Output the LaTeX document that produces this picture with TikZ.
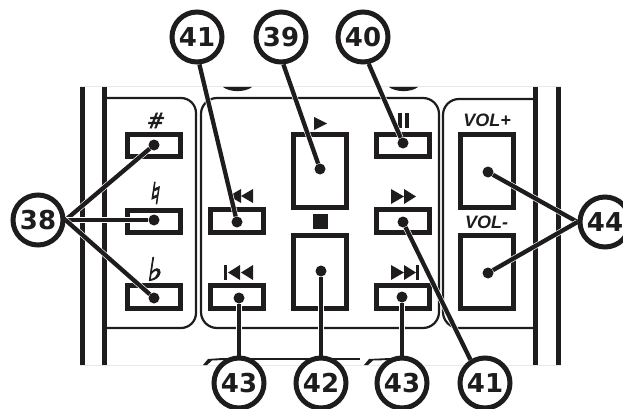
\documentclass[tikz,border=0pt]{standalone}
\usepackage{fontspec}
\setmainfont{Liberation Sans}
\newfontfamily\calloutfont{DejaVu Sans Bold}
\newfontfamily\accidentalfont[FakeSlant=0.15, FakeBold=2.5]{DejaVu Sans}
\pgfdeclarelayer{top}
\pgfsetlayers{main,top}
\definecolor{inkblack}{RGB}{30,28,28}
\definecolor{faintgrey}{RGB}{232,232,232}
\tikzset{
    bar/.style={draw=inkblack, line width=5},
    panel/.style={draw=inkblack, line width=2.2},
    faint/.style={draw=faintgrey, line width=0.8},
    button/.style={draw=inkblack, line width=5, inner sep=0pt, minimum width=53, minimum height=22.5},
    tallbutton/.style={button, minimum height=73},
    glyph/.style={fill=inkblack},
    keylabel/.style={text=inkblack, inner sep=0pt},
    pin/.style={circle, fill=inkblack, inner sep=0pt, minimum size=11},
    callout/.style={circle, draw=inkblack, fill=white, line width=5, inner sep=0pt, minimum size=50, font=\calloutfont\fontsize{26}{26}\selectfont, text=inkblack},
    leader/.style={draw=inkblack, line width=4.3, preaction={draw=white, line width=5.6}}
}
\begin{document}
\begin{tikzpicture}[x=1pt, y=-1pt]
    \clip (0,0) rectangle (623,409);
    % remote body
    \draw[faint] (80,86.5) -- (561,86.5);
    \draw[faint] (80,365) -- (561,365);
    \draw[bar] (82.5,87) -- (82.5,365);
    \draw[bar] (104.5,87) -- (104.5,365);
    \draw[bar] (535.5,87) -- (535.5,365);
    \draw[bar] (558.5,87) -- (558.5,365);
    \fill[inkblack] (223,87) .. controls (230,92.5) and (245,92.5) .. (252,87) -- cycle;
    \fill[inkblack] (389,87) .. controls (396,92.5) and (411,92.5) .. (418,87) -- cycle;
    \fill[inkblack] (203,365) -- (208,359) -- (223,358) -- (223,360) -- (212,360.5) -- (207,365) -- cycle;
    \draw[inkblack, line width=2] (223,359) -- (360,359);
    \fill[inkblack] (364,365) -- (369,359) -- (390,358) -- (390,360) -- (373,360.5) -- (368,365) -- cycle;
    % panels
    \draw[panel] (107,98) -- (181,98) arc[start angle=-90, end angle=0, radius=15] -- (196,313) arc[start angle=0, end angle=90, radius=15] -- (107,328);
    \draw[panel, rounded corners=16] (201,98) rectangle (439,328);
    \draw[panel] (533,99) -- (459,99) arc[start angle=-90, end angle=-180, radius=16] -- (443,312) arc[start angle=180, end angle=90, radius=16] -- (533,328);
    % buttons
    \node[button] (bsharp) at (154,145.5) {};
    \node[button] (bnatural) at (154,221.5) {};
    \node[button] (bflat) at (154,297) {};
    \node[button] (brew) at (237,221) {};
    \node[button] (bprev) at (237,297) {};
    \node[tallbutton] (bplay) at (320,171) {};
    \node[tallbutton] (bstop) at (320,272) {};
    \node[button] (bpause) at (403,145.5) {};
    \node[button] (bfwd) at (403,221) {};
    \node[button] (bnext) at (403,297) {};
    \node[tallbutton] (bvolup) at (487,171) {};
    \node[tallbutton] (bvoldown) at (487,272) {};
    % key labels
    \node[keylabel, font=\accidentalfont\fontsize{21}{21}\selectfont] (lsharp) at (155,120.5) {\#};
    \node[keylabel, font=\accidentalfont\fontsize{30}{30}\selectfont] (lnatural) at (154,193) {♮};
    \node[keylabel, font=\accidentalfont\fontsize{32}{32}\selectfont] (lflat) at (154,269) {♭};
    \node[keylabel, font=\bfseries\itshape\fontsize{18}{18}\selectfont] (lvolup) at (487,120) {VOL+};
    \node[keylabel, font=\bfseries\itshape\fontsize{18}{18}\selectfont] (lvoldown) at (486.5,222) {VOL-};
    \fill[glyph] (314,117) -- (327,123.5) -- (314,130) -- cycle;
    \fill[glyph] (398,113) rectangle (401.5,128);
    \fill[glyph] (405,113) rectangle (408.5,128);
    \fill[glyph] (241,189) -- (229,196) -- (241,203) -- cycle;
    \fill[glyph] (253,189) -- (241,196) -- (253,203) -- cycle;
    \fill[glyph] (391,189) -- (404,196.5) -- (391,204) -- cycle;
    \fill[glyph] (404,189) -- (416,196.5) -- (404,204) -- cycle;
    \fill[glyph] (313,214) rectangle (328,229);
    \fill[glyph] (224,265) rectangle (227,280);
    \fill[glyph] (240,265) -- (228,272.5) -- (240,280) -- cycle;
    \fill[glyph] (253,265) -- (241,272.5) -- (253,280) -- cycle;
    \fill[glyph] (391,265) -- (404,272.5) -- (391,280) -- cycle;
    \fill[glyph] (404,265) -- (416,272.5) -- (404,280) -- cycle;
    \fill[glyph] (416,265) rectangle (419,280);
    % callouts and their pins
    \begin{pgfonlayer}{top}
        \node[callout] (c38) at (38,220) {38};
        \node[callout] (c41top) at (197,37) {41};
        \node[callout] (c39) at (281,37) {39};
        \node[callout] (c40) at (363,37) {40};
        \node[callout] (c44) at (605,222) {44};
        \node[callout] (c43left) at (239,383) {43};
        \node[callout] (c42) at (321,383) {42};
        \node[callout] (c43right) at (402,383) {43};
        \node[callout] (c41bottom) at (485,383) {41};
        \node[pin] (p38a) at (154,145) {};
        \node[pin] (p38b) at (154,220) {};
        \node[pin] (p38c) at (154,298) {};
        \node[pin] (p41a) at (237,222) {};
        \node[pin] (p39) at (320,169) {};
        \node[pin] (p40) at (403,143) {};
        \node[pin] (p41b) at (403,222) {};
        \node[pin] (p43a) at (239,298) {};
        \node[pin] (p42) at (321,271) {};
        \node[pin] (p43b) at (402,297) {};
        \node[pin] (p44a) at (488,172) {};
        \node[pin] (p44b) at (488,273) {};
    \end{pgfonlayer}
    \draw[leader] (c38.east) -- (p38a);
    \draw[leader] (c38.east) -- (p38b);
    \draw[leader] (c38.east) -- (p38c);
    \draw[leader] (c41top.-85) -- (p41a);
    \draw[leader] (c39.-85) -- (p39);
    \draw[leader] (c40.-78) -- (p40);
    \draw[leader] (c41bottom.122) -- (p41b);
    \draw[leader] (c43left.north) -- (p43a);
    \draw[leader] (c42.north) -- (p42);
    \draw[leader] (c43right.north) -- (p43b);
    \draw[leader] (c44.west) -- (p44a);
    \draw[leader] (c44.west) -- (p44b);
\end{tikzpicture}
\end{document}
